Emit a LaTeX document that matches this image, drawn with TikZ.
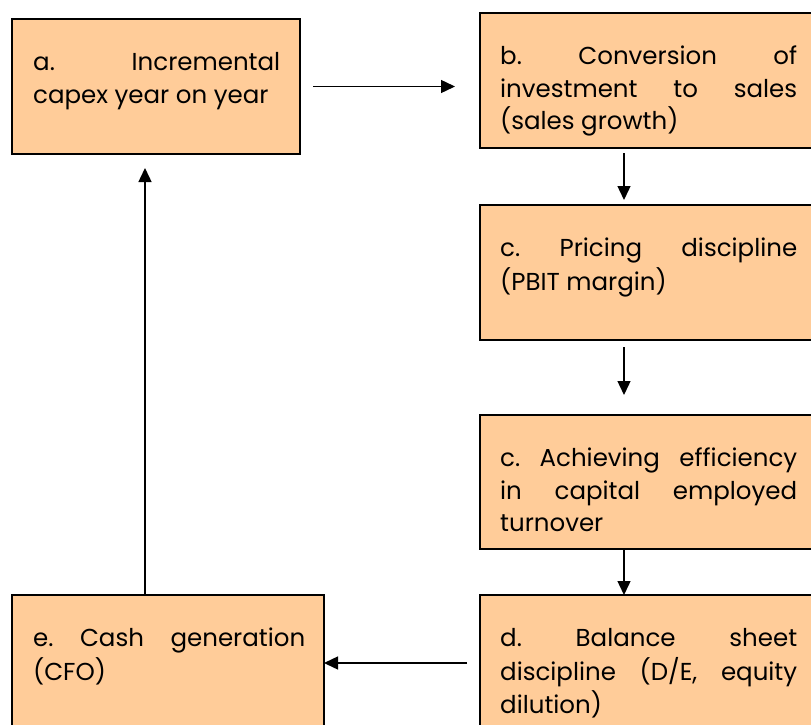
\documentclass[tikz,border=0pt]{standalone}
\usepackage{fontspec}
\setmainfont{Poppins}
\usetikzlibrary{arrows.meta}
\definecolor{boxfill}{HTML}{FFCC99}
\newcommand{\txtsetup}{\fontsize{24.5}{32.5}\selectfont\frenchspacing\hyphenpenalty=10000\relax\tolerance=10000\relax}
\begin{document}
\begin{tikzpicture}[x=1pt,y=-1pt,
  box/.style={draw=black,line width=1.4pt,fill=boxfill,rectangle,anchor=north west,inner sep=0pt,outer sep=0pt},
  txt/.style={anchor=north west,inner sep=0pt,align=justify,font=\txtsetup},
  arr/.style={-{Triangle[length=14pt,width=13pt]},line width=1.4pt}]
\clip (0,0) rectangle (811,725);
\node[box,minimum width=288pt,minimum height=135pt] (a) at (12,19) {};
\node[box,minimum width=340pt,minimum height=135pt] (b) at (480,13) {};
\node[box,minimum width=340pt,minimum height=135pt] (c1) at (480,205) {};
\node[box,minimum width=340pt,minimum height=134pt] (c2) at (480,415) {};
\node[box,minimum width=340pt,minimum height=136pt] (d) at (480,595) {};
\node[box,minimum width=312pt,minimum height=136pt] (e) at (12,595) {};
\node[txt,text width=247pt] (ta) at ([xshift=21pt,yshift=-29pt]a.north west) {\strut a. Incremental\linebreak capex year on year};
\node[txt,text width=297pt] (tb) at ([xshift=20pt,yshift=-29pt]b.north west) {\strut b. Conversion of\linebreak investment to sales\linebreak (sales growth)};
\node[txt,text width=297pt] (tc1) at ([xshift=20pt,yshift=-29pt]c1.north west) {\strut c. Pricing discipline\linebreak (PBIT margin)};
\node[txt,text width=297pt] (tc2) at ([xshift=20pt,yshift=-29pt]c2.north west) {\strut c. Achieving efficiency\linebreak in capital employed\linebreak turnover};
\node[txt,text width=297pt] (td) at ([xshift=20pt,yshift=-29pt]d.north west) {\strut d. Balance sheet\linebreak discipline (D/E, equity\linebreak dilution)};
\node[txt,text width=272pt] (te) at ([xshift=21pt,yshift=-29pt]e.north west) {\strut e. Cash generation\linebreak (CFO)};
\draw[arr] ([xshift=13pt]a.east) -- ([xshift=-25pt]b.west |- a.east);
\draw[arr] ([xshift=144pt,yshift=-5pt]b.south west) -- ([xshift=144pt,yshift=5pt]c1.north west);
\draw[arr] ([xshift=144pt,yshift=-7pt]c1.south west) -- ([xshift=144pt,yshift=20pt]c2.north west);
\draw[arr] ([xshift=144pt]c2.south west) -- ([xshift=144pt]d.north west);
\draw[arr] ([xshift=-13pt]d.west) -- (e.east);
\draw[arr] ([xshift=133pt]e.north west) -- ([xshift=133pt,yshift=-14pt]a.south west);
\end{tikzpicture}
\end{document}
